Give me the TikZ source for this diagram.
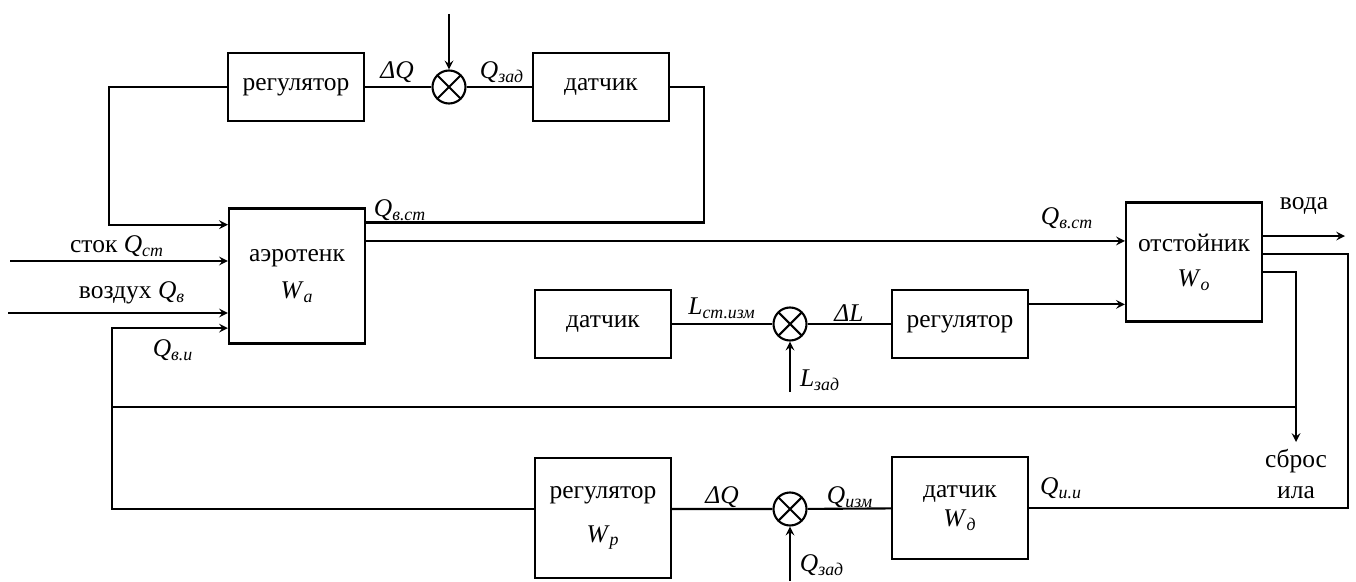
\documentclass[tikz,border=0pt]{standalone}
\usepackage{fontspec}
\setmainfont{Liberation Serif}
\usetikzlibrary{calc}
\newcommand{\qv}[2]{\textit{#1}\textsubscript{\textit{#2}}}

\begin{document}
\begin{tikzpicture}[x=0.2mm, y=-0.2mm, line width=1.2pt, >=stealth,
  font=\fontsize{14.5}{16}\selectfont,
  box/.style={draw, minimum width=27.2mm, minimum height=#1, align=center, inner sep=2pt},
  sum/.style={draw, circle, minimum size=6.6mm, inner sep=0pt,
    path picture={\draw (path picture bounding box.north west) -- (path picture bounding box.south east)
      (path picture bounding box.north east) -- (path picture bounding box.south west);}},
  lab/.style={inner sep=1pt}]
\useasboundingbox (0,0) rectangle (1356,581);
% top loop
\node[box=13.6mm] (regT) at (296,87) {регулятор};
\node[sum] (sumT) at (449,87) {};
\node[box=13.6mm] (senT) at (601,87) {датчик};
\node[box=27mm] (aero) at (297,276) {аэротенк\\[5pt]\qv{W}{а}};
\node[box=23.8mm] (otst) at (1194,262) {отстойник\\[4pt]\qv{W}{о}};
% middle loop
\node[box=13.6mm] (senM) at (603,324) {датчик};
\node[sum] (sumM) at (790,324) {};
\node[box=13.6mm] (regM) at (960,324) {регулятор};
% bottom loop
\node[box=24mm] (regB) at (603,518) {регулятор\\[9pt]\qv{W}{р}};
\node[sum] (sumB) at (790,509) {};
\node[box=20.4mm] (senB) at (960,508) {датчик\\[1pt]\qv{W}{д}};
\node[align=center] (sbros) at (1296,474) {сброс\\[2pt]ила};
\coordinate (zT) at (449,14);
\coordinate (inS) at (10,261);
\coordinate (inV) at (8,313);
\coordinate (zM) at (790,392);
\coordinate (zB) at (790,581);
\coordinate (br) at (1296,407);
\coordinate (lt) at (112,407);
% connectors
\draw[->] (regT.west) -- ++(-118,0) |- ($(aero.north west)!.126!(aero.south west)$);
\draw (senT.east) -- ++(34,0) |- ($(aero.north east)!.11!(aero.south east)$);
\draw (regT) -- (sumT) -- (senT);
\draw[->] (zT) -- (sumT);
\draw[->] (inS) -- (inS -| aero.west);
\draw[->] (inV) -- (inV -| aero.west);
\draw[->] ($(aero.north east)!.244!(aero.south east)$) coordinate (o1) -- (o1 -| otst.west);
\draw[->] ($(otst.north east)!.286!(otst.south east)$) -- ++(82,0);
\draw ($(otst.north east)!.437!(otst.south east)$) -- ++(85,0) |- (senB.east);
\draw[->] ($(otst.north east)!.58!(otst.south east)$) -| (sbros.north);
\draw (br) -- (lt);
\draw[->] (lt) |- ($(aero.north west)!.88!(aero.south west)$);
\draw (lt) |- (regB.west |- sumB);
\draw (senM) -- (sumM) -- (regM);
\draw[->] (zM) -- (sumM);
\draw[->] ($(regM.north east)!.22!(regM.south east)$) coordinate (m1) -- (m1 -| otst.west);
\draw (regB.east |- sumB) -- (sumB) -- (senB);
\draw[->] (zB) -- (sumB);
% labels
\node[lab] (dqT) at (397,72) {\textit{ΔQ}};
\node[lab] (qzT) at (502,72) {\qv{Q}{зад}};
\node[lab] (qa) at (400,210) {\qv{Q}{в.ст}};
\node[lab] (qo) at (1067,218) {\qv{Q}{в.ст}};
\node[lab] (voda) at (1304,206) {вода};
\node[lab] (stok) at (117,246) {сток \qv{Q}{ст}};
\node[lab] (vozd) at (132,293) {воздух \qv{Q}{в}};
\node[lab] (qvi) at (173,350) {\qv{Q}{в.и}};
\node[lab] (lizm) at (722,308) {\qv{L}{ст.изм}};
\node[lab] (dl) at (849,313) {\textit{ΔL}};
\node[lab] (lzad) at (820,380) {\qv{L}{зад}};
\node[lab] (dqB) at (722,497) {\textit{ΔQ}};
\node[lab] (qizm) at (850,497) {\qv{Q}{изм}};
\node[lab] (qzB) at (822,565) {\qv{Q}{зад}};
\node[lab] (qii) at (1061,488) {\qv{Q}{и.и}};
\end{tikzpicture}
\end{document}
